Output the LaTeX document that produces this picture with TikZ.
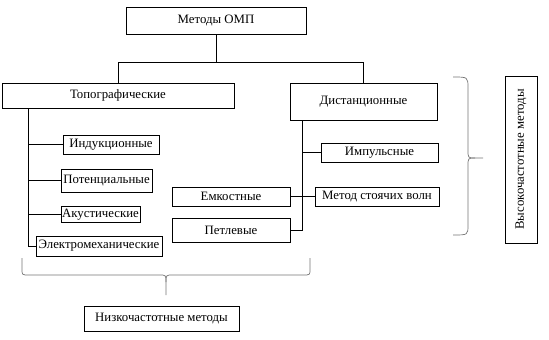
\documentclass[tikz,border=0pt]{standalone}
\usepackage{fontspec}
\setmainfont{Liberation Serif}
\usepackage{tikz}
\usetikzlibrary{calc, positioning}

\begin{document}
\begin{tikzpicture}[
    x=1pt, y=-1pt,
    every node/.style={font=\rmfamily\fontsize{12.8}{14}\selectfont},
    box/.style={draw, line width=0.8pt, inner sep=0pt, align=center},
    link/.style={line width=0.8pt},
    brace/.style={draw=black!55, line width=0.7pt},
  ]
  \useasboundingbox (0,0) rectangle (549,340);

  \node[box, minimum width=180, minimum height=27] (omp) at (216,20.5) {Методы ОМП};
  \node[box, minimum width=232, minimum height=25] (topo) at (118,95.5) {Топографические};
  \node[box, minimum width=147, minimum height=37] (dist) at (363.5,101.5) {Дистанционные};

  % low-frequency branch
  \node[box, minimum width=96, minimum height=19] (ind) at (111,144.5) {Индукционные};
  \node[box, minimum width=91, minimum height=23] (pot) at (106.5,180.5) {Потенциальные};
  \node[box, minimum width=79, minimum height=16] (aku) at (100.5,214.5) {Акустические};
  \node[box, minimum width=126, minimum height=20] (elm) at (99,246) {Электромеханические};

  % high-frequency branch
  \node[box, minimum width=118, minimum height=19] (emk) at (231,196.5) {Емкостные};
  \node[box, minimum width=118, minimum height=24] (pet) at (231,230) {Петлевые};
  \node[box, minimum width=117, minimum height=19] (imp) at (379.5,152.5) {Импульсные};
  \node[box, minimum width=124, minimum height=19] (msv) at (377,196.5) {Метод стоячих волн};

  \node[box, minimum width=155, minimum height=25] (nizk) at (161.5,318.5) {Низкочастотные методы};
  \node[box, minimum width=167, minimum height=32, rotate=90] (vys) at (521,159.5) {Высокочастотные методы};

  \draw[link] (omp.south) -- ++(0,28) -| (topo.north);
  \draw[link] (omp.south) -- ++(0,28) -| (dist.north);

  \coordinate (tt) at ([xshift=27]topo.south west);
  \draw[link] (tt) |- (elm.west);
  \foreach \n in {ind, pot, aku}
    \draw[link] (\n.west) -- (\n.west -| tt);

  \coordinate (dt) at ([xshift=13]dist.south west);
  \draw[link] (dt) |- (pet.east);
  \draw[link] (imp.west) -- (imp.west -| dt);
  \draw[link] (emk.east) -- (msv.west);

  % braces
  \draw[brace] (22,258) -- (22,269) .. controls (22,275) .. (29,275) -- (159,275)
    .. controls (166,275) .. (166,282) -- (166,295);
  \draw[brace] (166,282) .. controls (166,275) .. (173,275) -- (303,275)
    .. controls (310,275) .. (310,269) -- (310,258);
  \draw[brace] (453,77) .. controls (468,77) .. (468,88) -- (468,150)
    .. controls (468,158) .. (475,158) -- (483,158);
  \draw[brace] (475,158) .. controls (468,158) .. (468,166) -- (468,225)
    .. controls (468,235) .. (453,235);
\end{tikzpicture}
\end{document}
